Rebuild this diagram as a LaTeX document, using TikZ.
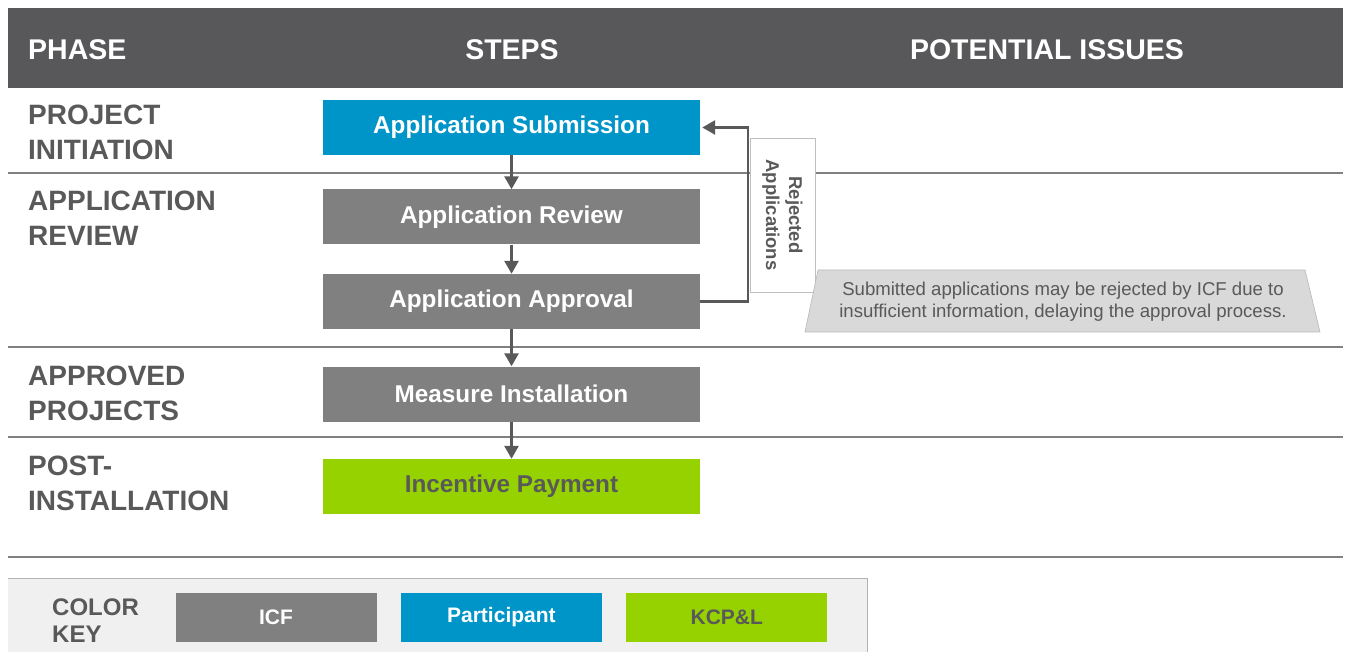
\documentclass[tikz,border=0pt]{standalone}
\usepackage{fontspec}
\setmainfont{Liberation Sans}
\usetikzlibrary{arrows.meta,positioning}
\definecolor{headgray}{RGB}{88,88,90}
\definecolor{rulegray}{RGB}{128,128,128}
\definecolor{icfgray}{RGB}{128,128,128}
\definecolor{partblue}{RGB}{0,149,200}
\definecolor{kcpgreen}{RGB}{150,210,0}
\definecolor{txtgray}{RGB}{89,89,89}
\definecolor{notegray}{RGB}{217,217,217}
\definecolor{keybg}{RGB}{240,240,240}

\begin{document}
\begin{tikzpicture}[x=1pt,y=-1pt,
    phase/.style={anchor=base west,align=left,inner sep=0pt,text=txtgray,
        font=\bfseries\fontsize{28}{35}\selectfont},
    head/.style={anchor=base,inner sep=0pt,text=white,font=\bfseries\fontsize{28.5}{32}\selectfont},
    stepbox/.style={minimum width=377pt,minimum height=55pt,inner sep=0pt,
        text=white,font=\bfseries\fontsize{24.3}{28}\selectfont},
    keybox/.style={minimum width=201pt,minimum height=49pt,inner sep=0pt,
        text=white,font=\bfseries\fontsize{21}{24}\selectfont},
    flow/.style={draw=txtgray,line width=2.6pt,-{Triangle[length=13pt,width=14pt]}},
    sep/.style={draw=rulegray,line width=1.6pt}]
\useasboundingbox (0,0) rectangle (1347,652);

% header
\fill[headgray] (8,8) rectangle (1343,88);
\node[head,anchor=base west] (hphase) at (28,60) {PHASE};
\node[head] (hsteps) at (512,60) {STEPS};
\node[head] (hissues) at (1047,60) {POTENTIAL ISSUES};

% separators between the phases
\draw[sep] (8,173) -- (1343,173);
\draw[sep] (8,347) -- (1343,347);
\draw[sep] (8,437) -- (1343,437);
\draw[sep] (8,557) -- (1343,557);

% the anchor is the baseline of the last line
\node[phase] (pinit) at (28,160) {PROJECT\\INITIATION};
\node[phase] (prev) at (28,246) {APPLICATION\\REVIEW};
\node[phase] (pappr) at (28,420) {APPROVED\\PROJECTS};
\node[phase] (ppost) at (28,510) {POST-\\INSTALLATION};

% steps
\node[stepbox,fill=partblue] (sub) at (511.5,127.5) {Application Submission};
\node[stepbox,fill=icfgray] (rev) at (511.5,217) {Application Review};
\node[stepbox,fill=icfgray] (appr) at (511.5,301.5) {Application Approval};
\node[stepbox,fill=icfgray] (inst) at (511.5,394) {Measure Installation};
\node[stepbox,fill=kcpgreen,text=txtgray] (pay) at (511.5,486.5) {Incentive Payment};

\draw[flow] (sub) -- (rev);
\draw[flow] (rev) -- (appr);
\draw[flow] (appr) -- (inst);
\draw[flow] (inst) -- (pay);

% loop back for rejected applications
\node[draw=rulegray!50,fill=white,line width=0.6pt,minimum width=65pt,minimum height=154pt,
    inner sep=0pt] (rejbox) at (782.5,215) {};
\node[rotate=-90,align=center,inner sep=0pt,text=txtgray,
    font=\bfseries\fontsize{18.5}{23}\selectfont] (rejtxt) at (rejbox.center) {Rejected\\Applications};
\coordinate (turn) at (748,301.5);
\draw[flow] (appr.east) -- (turn) |- ([xshift=2pt]sub.east);

% potential issue
\draw[draw=notegray!85!black,fill=notegray,line width=0.6pt]
    (818,270) coordinate (nt1) -- (1305,270) -- (1320,332) -- (805,332) -- cycle;
\node[align=center,inner sep=0pt,text=txtgray,font=\fontsize{18.6}{22}\selectfont] (note)
    at (1063,302) {Submitted applications may be rejected by ICF due to\\insufficient information, delaying the approval process.};

% color key
\fill[keybg] (8,578) rectangle (867,652);
\draw[draw=rulegray!60,line width=0.8pt] (8,578) -- (867,578) -- (867,652);
\node[phase,font=\bfseries\fontsize{24}{27}\selectfont] (ckey) at (52,642) {COLOR\\KEY};
\node[keybox,fill=icfgray] (kicf) at (276,617) {ICF};
\node[keybox,fill=partblue,right=24pt of kicf] (kpart) {Participant};
\node[keybox,fill=kcpgreen,text=txtgray,right=24pt of kpart] (kkcp) {KCP\&L};
\end{tikzpicture}
\end{document}
